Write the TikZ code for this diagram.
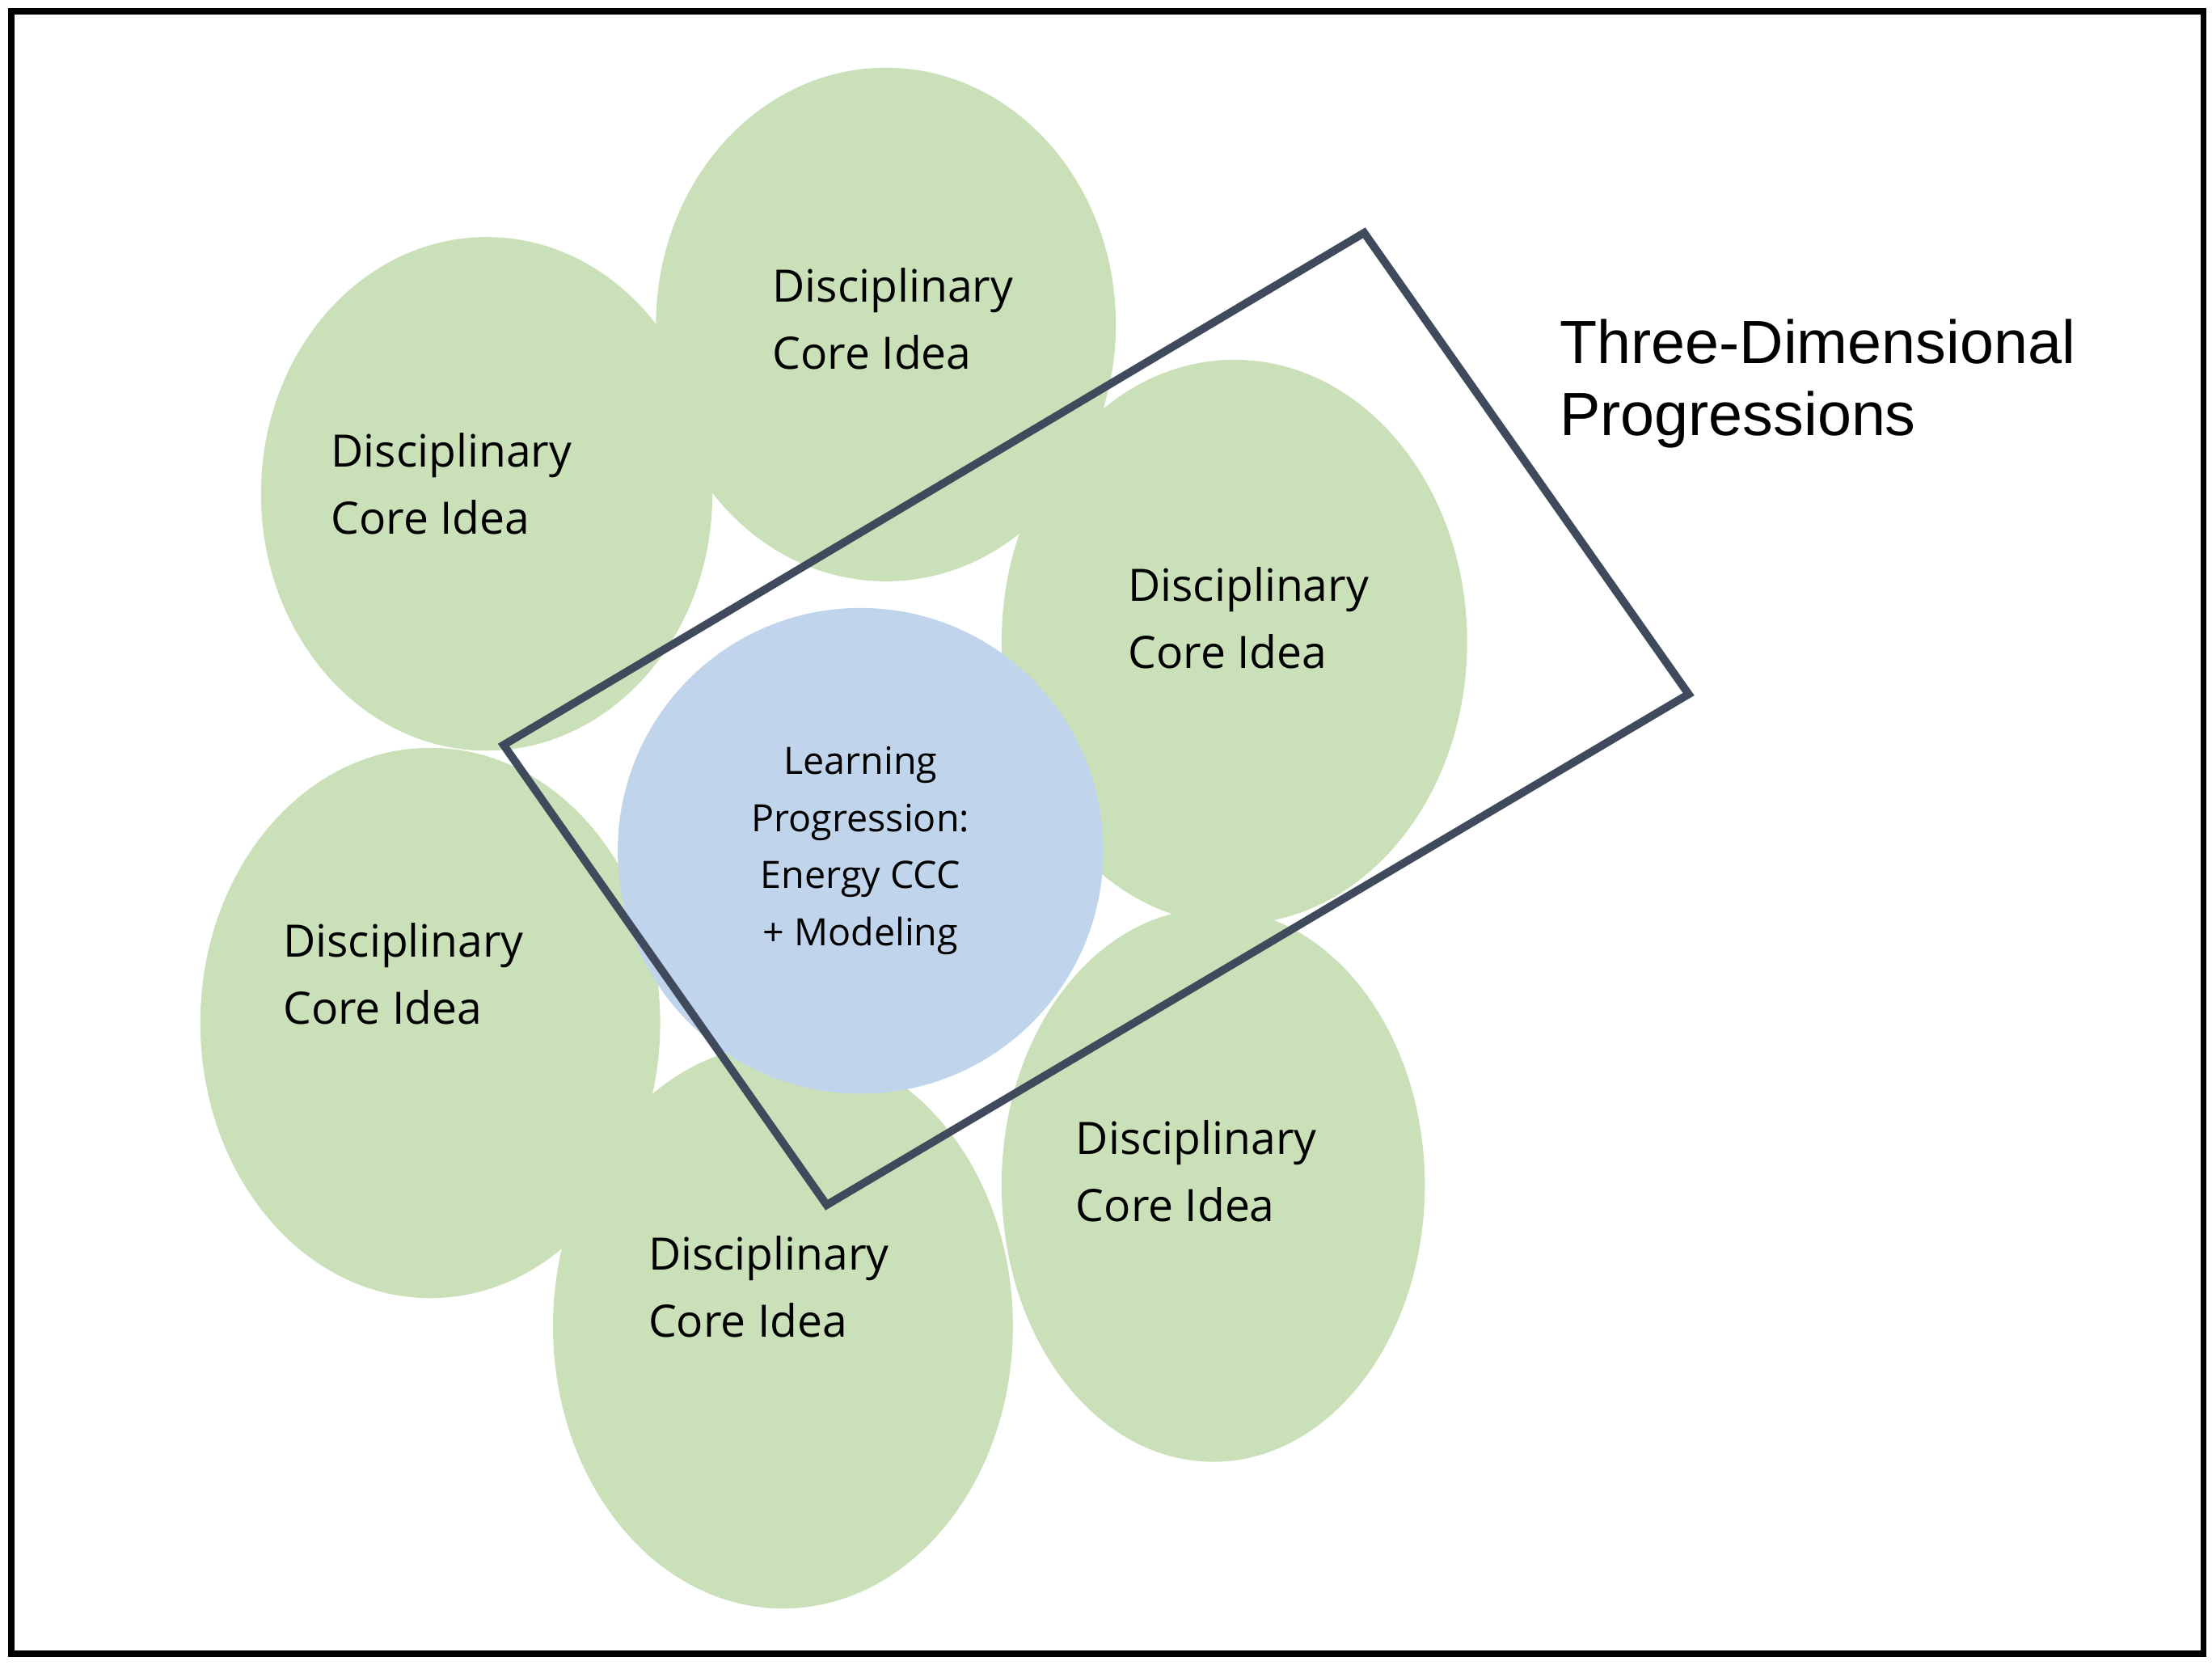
\documentclass[tikz,border=0pt]{standalone}
\usepackage{fontspec}
\setmainfont{Open Sans}
\newfontfamily\titlefont{Liberation Sans}
\usetikzlibrary{shapes.geometric}
\definecolor{IdeaGreen}{HTML}{C9E0B8}
\definecolor{CoreBlue}{HTML}{C0D4EB}
\definecolor{FrameSlate}{HTML}{3F4A5C}
\tikzstyle{idea_blob}=[ellipse, fill=IdeaGreen, inner sep=0pt]
\tikzstyle{idea_text}=[anchor=west, align=left, font=\fontsize{9}{13.5}\selectfont, inner sep=0pt]
\begin{document}
\begin{tikzpicture}[x=0.01cm, y=-0.01cm]
    \useasboundingbox (0,0) rectangle (1568,1180);
    \draw[line width=1.2pt] (8,8) rectangle (1562,1172);

    \foreach \n/\x/\y/\w/\h in {top/628/230/326/364,
                                uleft/345/350/320/364,
                                right/875/455/330/400,
                                left/305/725/326/390,
                                bottom/555/940/326/400,
                                bright/860/840/300/392} {
      \node at (\x, \y) (blob_\n) [idea_blob, minimum width=\w*0.01cm, minimum height=\h*0.01cm] {};
    }
    \foreach \n/\x/\y in {top/547/226, uleft/234/343, right/799/438,
                          left/200/690, bottom/459/912, bright/762/830} {
      \node at (\x, \y) (text_\n) [idea_text] {Disciplinary\\Core Idea};
    }

    \node at (610, 603) (core) [circle, fill=CoreBlue, minimum size=3.44cm, inner sep=0pt,
                                align=center, font=\fontsize{7.6}{11.5}\selectfont]
                                {Learning\\Progression:\\Energy CCC\\+ Modeling};

    \coordinate (box_a) at (357, 528);
    \coordinate (box_b) at (967, 165);
    \coordinate (box_c) at (1197, 492);
    \coordinate (box_d) at (586, 854);
    \draw[FrameSlate, line width=1.6pt, line join=miter] (box_a) -- (box_b) -- (box_c) -- (box_d) -- cycle;

    \node at (1105, 272) (title) [anchor=west, align=left, inner sep=0pt,
                                  font=\titlefont\fontsize{12.3}{14.5}\selectfont]
                                  {Three-Dimensional\\Progressions};
\end{tikzpicture}
\end{document}
